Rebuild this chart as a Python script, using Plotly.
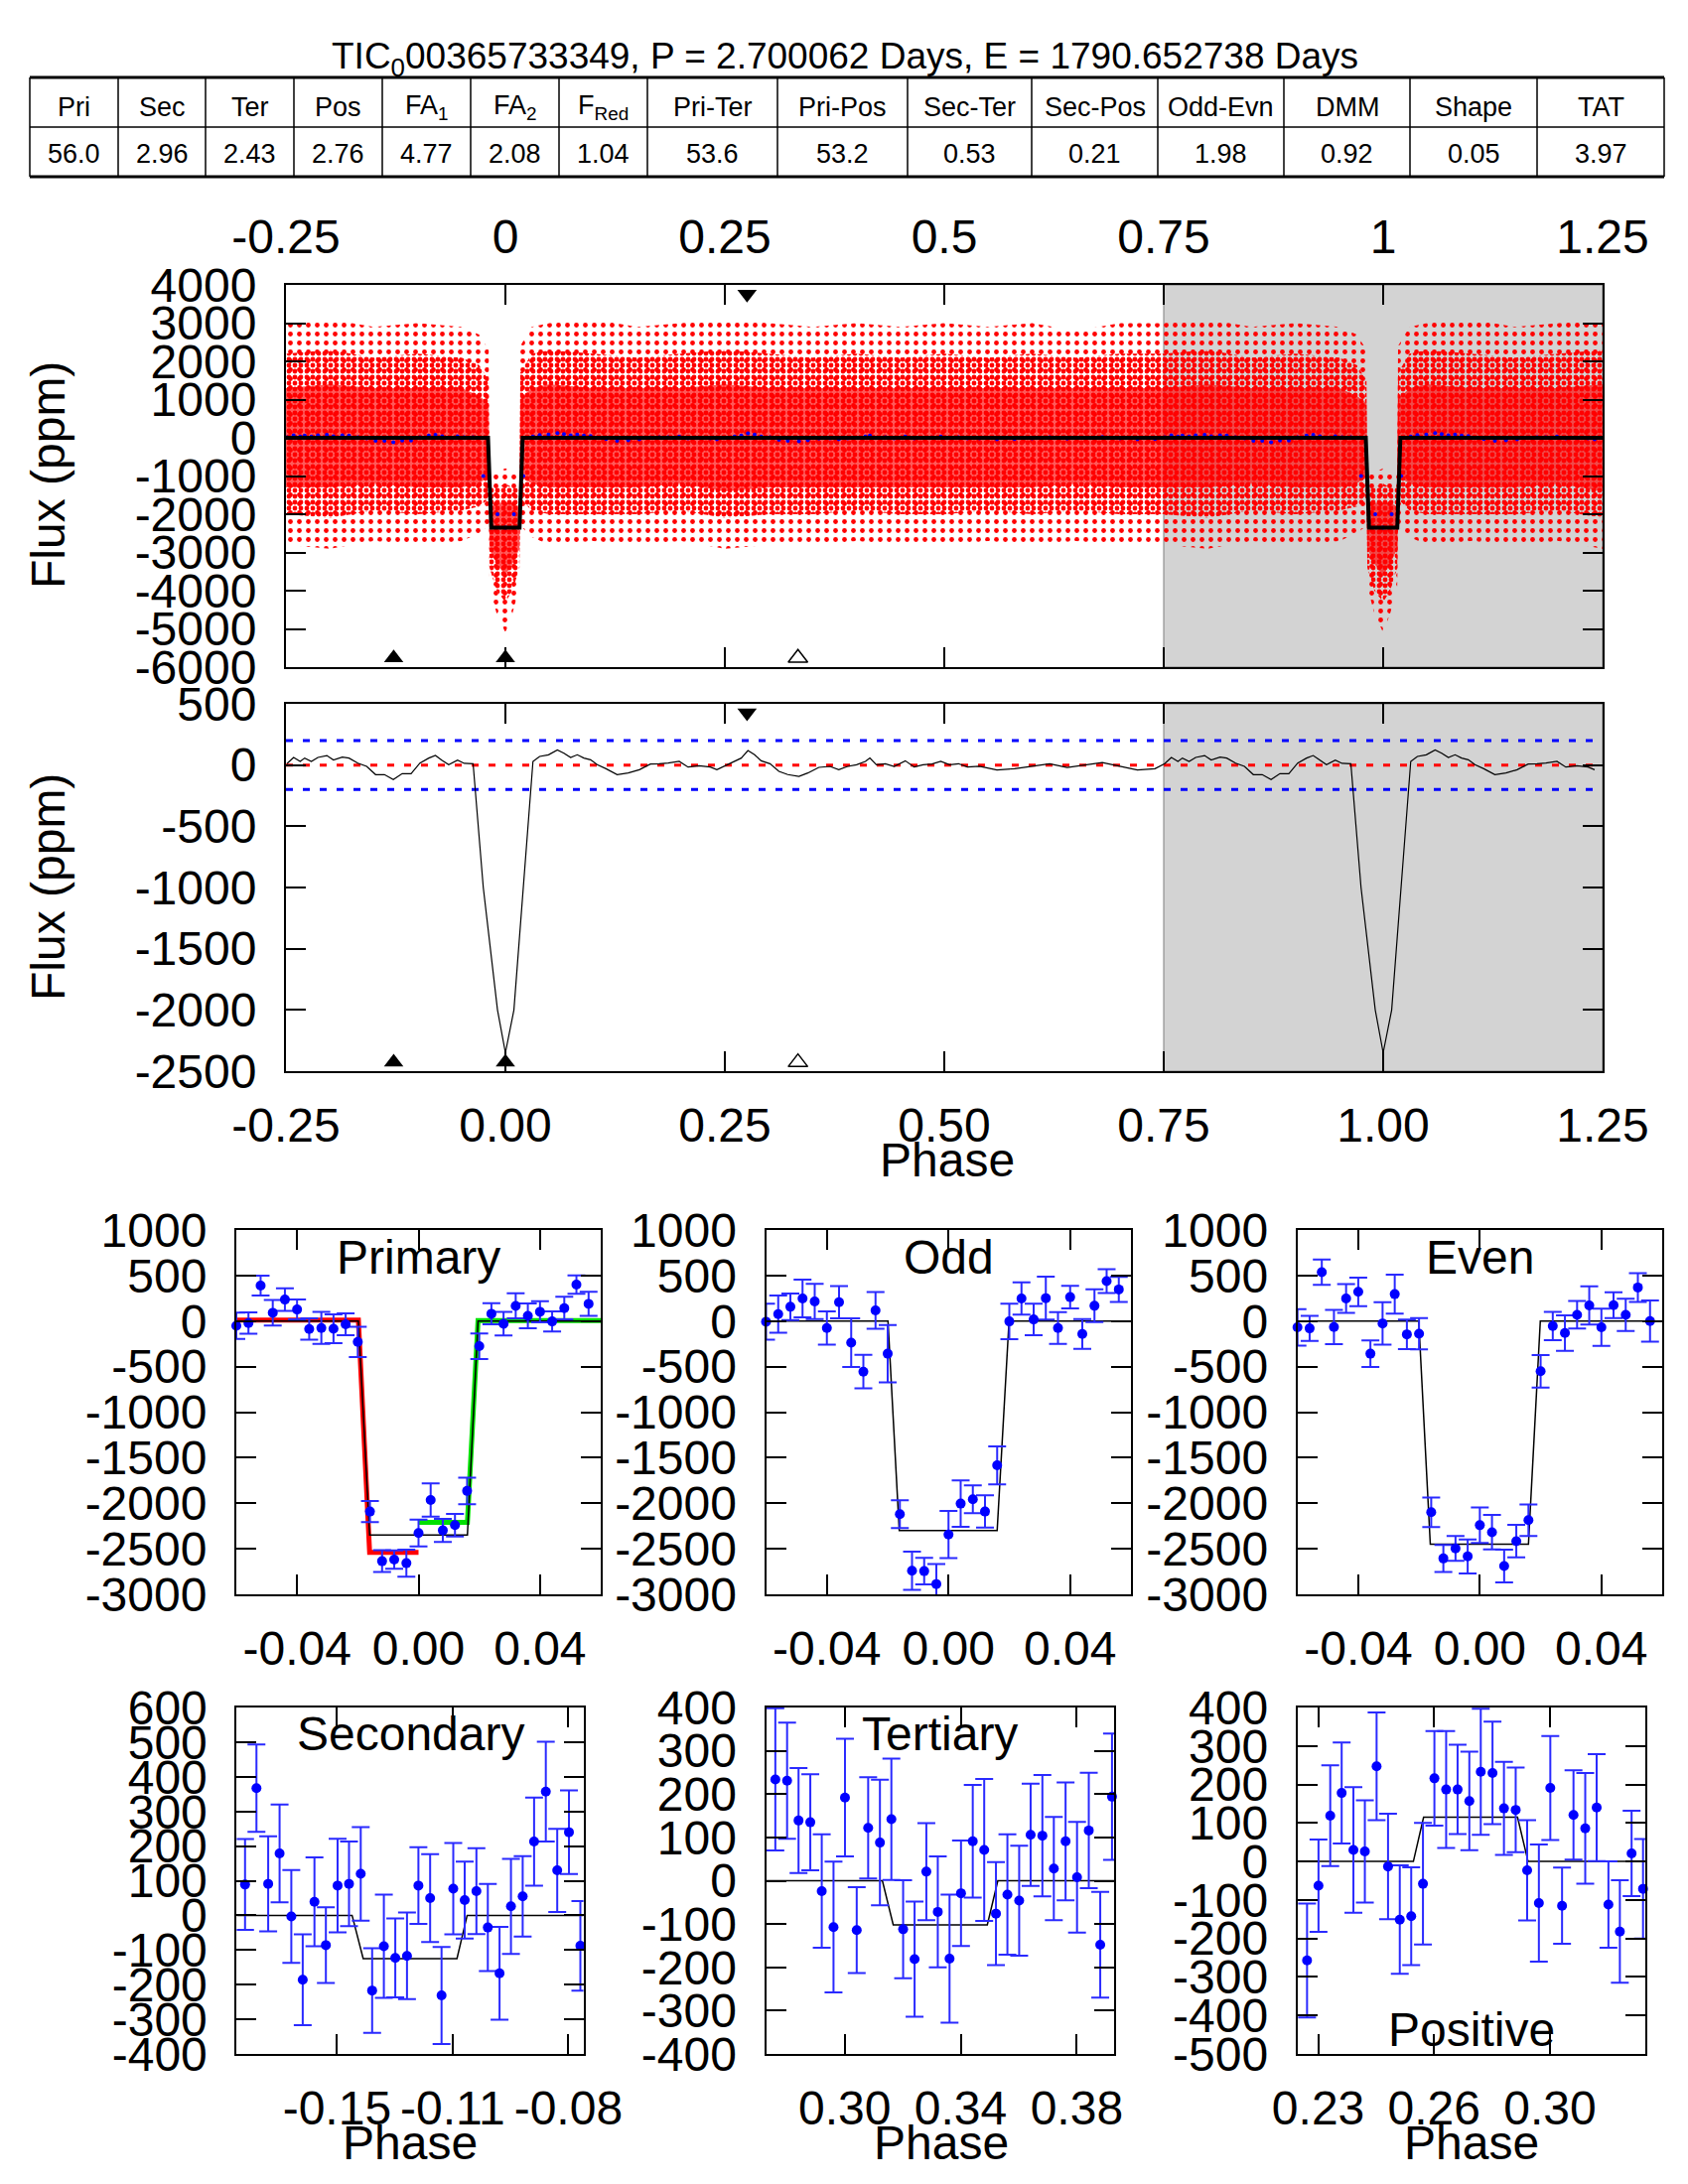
import numpy as np
import plotly.graph_objects as go

W, H = 1700, 2200
OX, OY = 8, 8  # page body margin in the browser
FONT = "Liberation Sans, Arial, sans-serif"

# ---------------- header / table
title_text = "TIC<sub>0</sub>00365733349, P = 2.700062 Days, E = 1790.652738 Days"
table_head = ["Pri", "Sec", "Ter", "Pos", "FA<sub>1</sub>", "FA<sub>2</sub>", "F<sub>Red</sub>",
              "Pri-Ter", "Pri-Pos", "Sec-Ter", "Sec-Pos", "Odd-Evn", "DMM", "Shape", "TAT"]
table_vals = ["56.0", "2.96", "2.43", "2.76", "4.77", "2.08", "1.04",
              "53.6", "53.2", "0.53", "0.21", "1.98", "0.92", "0.05", "3.97"]

# ---------------- full phase plots
# envelope of the red data cloud (one period, -0.25..0.75)
cloud_phase = [-0.25, -0.20, -0.15, -0.10, -0.05, -0.030, -0.019, -0.018, -0.010, 0.000, 0.008, 0.016,
               0.017, 0.030, 0.05, 0.10, 0.15, 0.20, 0.25, 0.30, 0.35, 0.40, 0.45, 0.50, 0.55, 0.60,
               0.65, 0.70, 0.75]
outer_hi = [3000, 3100, 2900, 3000, 2900, 2700, 2300, -900, -900, -800, -900, -900,
            2400, 2900, 3000, 3100, 2900, 3000, 3100, 3000, 2900, 3000, 2900, 3000, 2900, 3000,
            2800, 3000, 3000]
outer_lo = [-2800, -2900, -2700, -2800, -2700, -2500, -2300, -3900, -4600, -5100, -4600, -3900,
            -2300, -2600, -2800, -2700, -2800, -2700, -2900, -2800, -2800, -2700, -2800, -2800, -2700, -2800,
            -2700, -2800, -2800]
mid_hi = [2200, 2300, 2100, 2200, 2100, 1900, 1500, -1300, -1300, -1200, -1300, -1300,
          1700, 2200, 2300, 2200, 2100, 2200, 2300, 2200, 2100, 2200, 2100, 2200, 2100, 2200,
          2100, 2200, 2200]
mid_lo = [-2000, -2100, -1900, -2000, -1900, -1800, -1600, -3400, -4000, -4300, -4000, -3400,
          -1600, -1900, -2000, -2000, -2000, -1900, -2100, -2000, -2000, -1900, -2000, -2000, -1900, -2000,
          -1900, -2000, -2000]
core_hi = [1300, 1400, 1300, 1300, 1300, 1100, 900, -1800, -1700, -1700, -1700, -1800,
           1000, 1300, 1400, 1300, 1300, 1300, 1400, 1300, 1300, 1300, 1300, 1300, 1300, 1300,
           1300, 1300, 1300]
core_lo = [-1300, -1300, -1200, -1300, -1300, -1200, -1000, -2900, -3300, -3600, -3300, -2900,
           -1000, -1200, -1300, -1300, -1300, -1200, -1400, -1300, -1300, -1300, -1300, -1300, -1300, -1300,
           -1200, -1300, -1300]

# smoothed (binned) light curve, one period
smooth_phase = [-0.2489, -0.2413, -0.2338, -0.2287, -0.2211, -0.2136, -0.2034, -0.1959, -0.1858, -0.1782,
                -0.1681, -0.1580, -0.1479, -0.1378, -0.1277, -0.1176, -0.1075, -0.0974, -0.0873, -0.0797,
                -0.0721, -0.0646, -0.0545, -0.0469, -0.0368, -0.0252, -0.0090, 0.0000, 0.0097, 0.0204,
                0.0314, 0.0390, 0.0491, 0.0592, 0.0667, 0.0743, 0.0819, 0.0894, 0.0970, 0.1046,
                0.1147, 0.1273, 0.1399, 0.1526, 0.1652, 0.1753, 0.1854, 0.1980, 0.2081, 0.2207,
                0.2334, 0.2409, 0.2510, 0.2611, 0.2687, 0.2763, 0.2839, 0.2914, 0.3015, 0.3116,
                0.3217, 0.3344, 0.3445, 0.3571, 0.3697, 0.3798, 0.3899, 0.4000, 0.4101, 0.4152,
                0.4227, 0.4328, 0.4429, 0.4556, 0.4657, 0.4758, 0.4859, 0.4960, 0.5061, 0.5162,
                0.5263, 0.54, 0.56, 0.58, 0.60, 0.62, 0.64, 0.66, 0.68, 0.70,
                0.72, 0.74]
smooth_flux = [11, 62, 30, 57, 30, 62, 78, 41, 65, 57,
               16, -11, -78, -78, -119, -70, -70, 16, 57, 78,
               38, 3, 41, 14, 11, -1000, -2000, -2350, -2000, -1000,
               30, 70, 84, 124, 97, 62, 84, 57, 43, 3,
               -30, -78, -65, -38, 8, 11, 16, 30, -16, -5,
               -16, -38, -3, 30, 57, 119, 84, 35, 11, -51,
               -78, -92, -65, -19, -11, -38, -11, 3, 30, 57,
               3, 11, -11, 35, -16, 3, 8, 30, 3, 11,
               -16, -10, -40, -30, -10, 10, -20, 0, 20, -10,
               -40, -30]

# box model for the full plot
model_phase = [-0.25, -0.0198, -0.0161, 0.0161, 0.0196, 0.9802, 0.9839, 1.0161, 1.0196, 1.25]
model_flux = [0, 0, -2350, -2350, 0, 0, -2350, -2350, 0, 0]

# event markers: primary, secondary, tertiary, positive
event_phase = {"pri": 0.0, "sec": -0.1273, "ter": 0.3333, "pos": 0.2753}
thresh_lines = [200, -200]

full_ticks = [-0.25, 0, 0.25, 0.5, 0.75, 1.0, 1.25]
full_top_text = ["-0.25", "0", "0.25", "0.5", "0.75", "1", "1.25"]
full_bot_text = ["-0.25", "0.00", "0.25", "0.50", "0.75", "1.00", "1.25"]
y1_ticks = [4000, 3000, 2000, 1000, 0, -1000, -2000, -3000, -4000, -5000, -6000]
y2_ticks = [500, 0, -500, -1000, -1500, -2000, -2500]

# ---------------- zoomed panels
pri_phase = [-0.060, -0.056, -0.052, -0.048, -0.044, -0.040, -0.036, -0.032, -0.028, -0.024,
             -0.020, -0.016, -0.012, -0.008, -0.004, 0.000, 0.004, 0.008, 0.012, 0.016,
             0.020, 0.024, 0.028, 0.032, 0.036, 0.040, 0.044, 0.048, 0.052, 0.056]
prim_flux = [-51, -22, 389, 91, 236, 127, -87, -76, -84, -36, -229, -2091, -2636, -2618, -2658,
             -2327, -1964, -2298, -2240, -1865, -276, 80, -29, 167, 58, 102, -4, 142, 400, 189]
prim_err = [145, 118, 109, 140, 124, 109, 118, 176, 158, 120, 167, 115, 120, 100, 149,
            147, 182, 127, 124, 145, 140, 116, 129, 138, 136, 116, 111, 124, 100, 133]
odd_flux = [-7, 77, 157, 248, 215, -77, 208, -237, -555, 117, -358, -2120, -2741, -2745, -2887,
            -2343, -2004, -1956, -2091, -1584, -4, 248, 18, 252, -77, 263, -142, 168, 438, 347]
odd_err = [197, 205, 146, 208, 194, 182, 177, 266, 184, 201, 315, 153, 210, 146, 220,
           259, 255, 153, 177, 208, 195, 177, 173, 235, 175, 124, 164, 180, 131, 137]
even_flux = [-69, -80, 536, -66, 248, 321, -358, -26, 296, -146, -139, -2099, -2606, -2496, -2584,
             -2241, -2318, -2690, -2416, -2186, -551, -55, -131, 69, 172, -69, 175, 69, 369, 0]
even_err = [201, 137, 139, 188, 159, 157, 146, 233, 213, 161, 172, 162, 148, 137, 187,
            195, 189, 180, 179, 173, 178, 155, 195, 151, 209, 204, 142, 177, 158, 226]

sec_phase = [-0.1808, -0.1771, -0.1733, -0.1696, -0.1658, -0.1621, -0.1583, -0.1546, -0.1508, -0.1471,
             -0.1433, -0.1396, -0.1358, -0.1321, -0.1283, -0.1246, -0.1208, -0.1171, -0.1133, -0.1096,
             -0.1058, -0.1021, -0.0983, -0.0946, -0.0908, -0.0871, -0.0833, -0.0796, -0.0758, -0.0721]
sec_flux = [89, 367, 91, 179, -3, -186, 39, -86, 86, 91, 120, -217, -89, -123, -117,
            86, 50, -231, 77, 44, 70, -35, -167, 26, 55, 213, 357, 130, 240, -88]
sec_err = [131, 126, 137, 141, 134, 131, 128, 109, 135, 122, 135, 122, 149, 114, 125,
           111, 127, 140, 132, 111, 124, 126, 134, 137, 116, 127, 144, 120, 121, 129]

ter_phase = [0.2796, 0.2834, 0.2871, 0.2909, 0.2946, 0.2984, 0.3021, 0.3059, 0.3096, 0.3134,
             0.3171, 0.3209, 0.3246, 0.3284, 0.3321, 0.3359, 0.3396, 0.3434, 0.3471, 0.3509,
             0.3546, 0.3584, 0.3621, 0.3659, 0.3696, 0.3734, 0.3771, 0.3809, 0.3846, 0.3884]
ter_flux = [234, 231, 139, 135, -24, -107, 192, -114, 122, 88, 142, -112, -181, 21, -72,
            -180, -29, 91, 71, -76, -32, -46, 106, 104, 28, 91, 8, 116, -148, 194]
ter_err = [164, 134, 121, 111, 131, 151, 136, 99, 117, 145, 140, 113, 133, 112, 128,
           148, 122, 130, 164, 119, 139, 127, 118, 140, 119, 136, 128, 133, 122, 146]

pos_phase = [0.2224, 0.2261, 0.2299, 0.2336, 0.2374, 0.2411, 0.2449, 0.2486, 0.2524, 0.2561,
             0.2599, 0.2636, 0.2674, 0.2711, 0.2749, 0.2786, 0.2824, 0.2861, 0.2899, 0.2936,
             0.2974, 0.3011, 0.3049, 0.3086, 0.3124, 0.3161, 0.3199, 0.3236, 0.3274, 0.3311]
pos_flux = [-257, -63, 119, 178, 30, 26, 247, -13, -151, -142, -58, 216, 187, 187, 157,
            233, 230, 138, 134, -23, -108, 191, -115, 121, 86, 140, -112, -182, 21, -71]
pos_err = [148, 120, 131, 131, 163, 133, 140, 137, 141, 127, 158, 123, 152, 116, 128,
           164, 133, 121, 110, 130, 152, 135, 99, 116, 144, 139, 112, 133, 111, 129]

# box models for each zoomed panel
pri_model_x = [-0.06, -0.0198, -0.0161, 0.0161, 0.0196, 0.06]
pri_model_y = [0, 0, -2350, -2350, 0, 0]
odd_model_x = [-0.06, -0.0199, -0.0162, 0.0160, 0.0199, 0.06]
odd_model_y = [0, 0, -2300, -2300, 0, 0]
even_model_x = [-0.06, -0.0201, -0.0163, 0.0160, 0.0199, 0.06]
even_model_y = [0, 0, -2450, -2450, 0, 0]
red_fit_x = [-0.06, -0.0198, -0.0161, 0.0]
red_fit_y = [10, 10, -2540, -2540]
green_fit_x = [0.0, 0.0161, 0.0196, 0.06]
green_fit_y = [-2210, -2210, 5, 5]
sec_model_x = [-0.1835, -0.1461, -0.1425, -0.1121, -0.1088, -0.0711]
sec_model_y = [0, 0, -125, -125, 0, 0]
ter_model_x = [0.2766, 0.3142, 0.3177, 0.3481, 0.3515, 0.3892]
ter_model_y = [0, 0, -102, -102, 0, 0]
pos_model_x = [0.2193, 0.2568, 0.2601, 0.2905, 0.2939, 0.3318]
pos_model_y = [0, 0, 115, 115, 0, 0]


def px_x(a, b):
    return [(a - OX) / W, (b - OX) / W]


def px_y(top, bot):
    return [1 - (bot - OY) / H, 1 - (top - OY) / H]


def pp(x, y):
    # pixel position -> paper coordinates
    return (x - OX) / W, 1 - (y - OY) / H


def wrap(xs, ys):
    # copy the first half period to 0.75..1.25
    xs = np.asarray(xs, float)
    ys = np.asarray(ys, float)
    keep = xs + 1 <= 1.25
    return np.concatenate([xs, xs[keep] + 1]), np.concatenate([ys, ys[keep]])


def axis(domain, rng, tickvals, ticktext, anchor, side=None, standoff=14, ticklen=20):
    d = dict(domain=domain, range=rng, anchor=anchor, tickmode="array", tickvals=tickvals,
             ticktext=ticktext, ticks="inside", ticklen=ticklen, tickwidth=1.5, tickcolor="black",
             showline=True, linecolor="black", linewidth=2, mirror="ticks", showgrid=False,
             zeroline=False, ticklabelstandoff=standoff, automargin=False, tickangle=0,
             tickfont=dict(size=48, family=FONT, color="black"))
    if side:
        d["side"] = side
    return d


fig = go.Figure()

# ---- panel 1: raw folded data
cx, _ = wrap(cloud_phase, outer_hi)
bands = [(outer_hi, outer_lo, dict(shape=".", fgcolor="red", size=9, solidity=0.22)),
         (mid_hi, mid_lo, dict(shape=".", fgcolor="red", size=6, solidity=0.5)),
         (core_hi, core_lo, None)]
for hi, lo, patt in bands:
    _, yh = wrap(cloud_phase, hi)
    _, yl = wrap(cloud_phase, lo)
    tr = go.Scatter(x=np.concatenate([cx, cx[::-1]]), y=np.concatenate([yh, yl[::-1]]),
                    fill="toself", mode="none", hoverinfo="skip", xaxis="x", yaxis="y")
    if patt:
        tr.fillcolor = "rgba(0,0,0,0)"
        tr.fillpattern = dict(bgcolor="rgba(0,0,0,0)", **patt)
    else:
        tr.fillcolor = "rgba(255,0,0,0.65)"
    fig.add_trace(tr)

sx, sy = wrap(smooth_phase, smooth_flux)
fig.add_trace(go.Scatter(x=sx, y=sy, mode="markers", marker=dict(color="blue", size=4),
                         xaxis="x", yaxis="y", hoverinfo="skip"))
fig.add_trace(go.Scatter(x=model_phase, y=model_flux, mode="lines", line=dict(color="black", width=4),
                         xaxis="x", yaxis="y"))

# ---- panel 2: smoothed curve
for val in thresh_lines:
    fig.add_trace(go.Scatter(x=[full_ticks[0], full_ticks[-1]], y=[val, val], mode="lines",
                             line=dict(color="blue", width=3, dash="7px,10px"), xaxis="x2", yaxis="y2"))
fig.add_trace(go.Scatter(x=[full_ticks[0], full_ticks[-1]], y=[0, 0], mode="lines",
                         line=dict(color="red", width=3, dash="7px,10px"), xaxis="x2", yaxis="y2"))
fig.add_trace(go.Scatter(x=sx, y=sy, mode="lines", line=dict(color="black", width=1.2),
                         xaxis="x2", yaxis="y2"))

# event triangles on both full plots
for xa, ya, rng in [("x", "y", [-6000, 4000]), ("x2", "y2", [-2500, 500])]:
    lo = rng[0] + 0.024 * (rng[1] - rng[0])
    hi = rng[1] - 0.024 * (rng[1] - rng[0])
    fig.add_trace(go.Scatter(x=[event_phase["sec"], event_phase["pri"]], y=[lo, lo], mode="markers",
                             marker=dict(symbol="triangle-up", size=17, color="black"),
                             xaxis=xa, yaxis=ya, cliponaxis=False))
    fig.add_trace(go.Scatter(x=[event_phase["ter"]], y=[lo], mode="markers",
                             marker=dict(symbol="triangle-up-open", size=17, color="black",
                                         line=dict(width=1.5)),
                             xaxis=xa, yaxis=ya, cliponaxis=False))
    fig.add_trace(go.Scatter(x=[event_phase["pos"]], y=[hi], mode="markers",
                             marker=dict(symbol="triangle-down", size=17, color="black"),
                             xaxis=xa, yaxis=ya, cliponaxis=False))

# ---- zoomed panels
panels = [
    ("3", pri_phase, prim_flux, prim_err, pri_model_x, pri_model_y),
    ("4", pri_phase, odd_flux, odd_err, odd_model_x, odd_model_y),
    ("5", pri_phase, even_flux, even_err, even_model_x, even_model_y),
    ("6", sec_phase, sec_flux, sec_err, sec_model_x, sec_model_y),
    ("7", ter_phase, ter_flux, ter_err, ter_model_x, ter_model_y),
    ("8", pos_phase, pos_flux, pos_err, pos_model_x, pos_model_y),
]
for n, px, fy, fe, mx, my in panels:
    if n == "3":
        fig.add_trace(go.Scatter(x=red_fit_x, y=red_fit_y, mode="lines",
                                 line=dict(color="red", width=5), xaxis="x3", yaxis="y3"))
        fig.add_trace(go.Scatter(x=green_fit_x, y=green_fit_y, mode="lines",
                                 line=dict(color="#00e000", width=5), xaxis="x3", yaxis="y3"))
    fig.add_trace(go.Scatter(x=mx, y=my, mode="lines", line=dict(color="black", width=1.5),
                             xaxis="x" + n, yaxis="y" + n))
    fig.add_trace(go.Scatter(x=px, y=fy, mode="markers", marker=dict(color="blue", size=10),
                             error_y=dict(type="data", array=fe, color="#2a2aff", thickness=2, width=9),
                             xaxis="x" + n, yaxis="y" + n, cliponaxis=False))

# ---- layout
top1, bot1 = 287, 672
top2, bot2 = 709, 1079
L, R = 288, 1614
r1t, r1b = 1239, 1606
r2t, r2b = 1720, 2069
cols1 = [(238, 605), (771.5, 1139), (1306.7, 1674)]
cols2 = [(238.4, 587.6), (771.5, 1122.4), (1306.7, 1656.9)]

lay = dict(
    template="none",
    width=W, height=H, margin=dict(l=0, r=0, t=0, b=0, autoexpand=False), showlegend=False,
    paper_bgcolor="white", plot_bgcolor="white",
    font=dict(family=FONT, color="black"),
)
lay["xaxis"] = axis(px_x(L, R), [-0.25, 1.25], full_ticks, full_top_text, "y", side="top", standoff=11)
lay["yaxis"] = axis(px_y(top1, bot1), [-6000, 4000], y1_ticks, [str(v) for v in y1_ticks], "x", standoff=18)
lay["xaxis2"] = axis(px_x(L, R), [-0.25, 1.25], full_ticks, full_bot_text, "y2", standoff=11)
lay["yaxis2"] = axis(px_y(top2, bot2), [-2500, 500], y2_ticks, [str(v) for v in y2_ticks], "x2", standoff=18)

pri_ticks = [-0.04, 0.0, 0.04]
pri_text = ["-0.04", "0.00", "0.04"]
big_y = [1000, 500, 0, -500, -1000, -1500, -2000, -2500, -3000]
for i, n in enumerate(["3", "4", "5"]):
    a, b = cols1[i]
    lay["xaxis" + n] = axis(px_x(a, b), [-0.06, 0.06], pri_ticks, pri_text, "y" + n, standoff=11)
    lay["yaxis" + n] = axis(px_y(r1t, r1b), [-3000, 1000], big_y, [str(v) for v in big_y], "x" + n, standoff=18)

row2 = [
    ("6", [-0.1835, -0.0711], [-0.151, -0.1135, -0.076], ["-0.15", "-0.11", "-0.08"],
     [-400, 600], [600, 500, 400, 300, 200, 100, 0, -100, -200, -300, -400]),
    ("7", [0.2766, 0.3892], [0.302, 0.3395, 0.377], ["0.30", "0.34", "0.38"],
     [-400, 400], [400, 300, 200, 100, 0, -100, -200, -300, -400]),
    ("8", [0.2193, 0.3318], [0.226, 0.2635, 0.301], ["0.23", "0.26", "0.30"],
     [-500, 400], [400, 300, 200, 100, 0, -100, -200, -300, -400, -500]),
]
for i, (n, xr, tv, tt, yr, yt) in enumerate(row2):
    a, b = cols2[i]
    lay["xaxis" + n] = axis(px_x(a, b), xr, tv, tt, "y" + n, standoff=11)
    lay["yaxis" + n] = axis(px_y(r2t, r2b), yr, yt, [str(v) for v in yt], "x" + n, standoff=18)

fig.update_layout(**lay)

# gray half (second copy of the period)
for ya in ["y", "y2"]:
    fig.add_shape(type="rect", xref="x" if ya == "y" else "x2", yref=ya + " domain",
                  x0=0.75, x1=1.25, y0=0, y1=1, fillcolor="#d3d3d3",
                  line=dict(color="#7f7f7f", width=1), layer="below")

# ---- statistics table drawn as ruled cells
col_edges = [30, 119, 207, 296, 385, 474, 563, 652, 783, 914, 1039, 1166, 1293, 1420, 1548, 1676]
row_edges = [78, 128, 178]
for yy, lw in zip(row_edges, [3, 1.5, 3]):
    x0, y0 = pp(col_edges[0], yy)
    x1, _ = pp(col_edges[-1], yy)
    fig.add_shape(type="line", xref="paper", yref="paper", x0=x0, x1=x1, y0=y0, y1=y0,
                  line=dict(color="black", width=lw))
for xx in col_edges:
    x0, y0 = pp(xx, row_edges[0])
    _, y1 = pp(xx, row_edges[-1])
    fig.add_shape(type="line", xref="paper", yref="paper", x0=x0, x1=x0, y0=y0, y1=y1,
                  line=dict(color="black", width=1.5))
for i in range(len(table_head)):
    cxp = (col_edges[i] + col_edges[i + 1]) / 2
    for txt, yy in [(table_head[i], 108), (table_vals[i], 155)]:
        ax, ay = pp(cxp, yy)
        fig.add_annotation(xref="paper", yref="paper", x=ax, y=ay, text=txt, showarrow=False,
                           xanchor="center", yanchor="middle",
                           font=dict(size=27, family=FONT, color="black"))

ann = [
    dict(text=title_text, x=851, y=59, font=dict(size=37)),
    dict(text="Flux (ppm)", x=48, y=479, textangle=-90, font=dict(size=48)),
    dict(text="Flux (ppm)", x=48, y=894, textangle=-90, font=dict(size=48)),
    dict(text="Phase", x=954, y=1168, font=dict(size=48)),
    dict(text="Phase", x=413, y=2158, font=dict(size=48)),
    dict(text="Phase", x=948, y=2158, font=dict(size=48)),
    dict(text="Phase", x=1482, y=2158, font=dict(size=48)),
]
for a in ann:
    a["x"], a["y"] = pp(a["x"], a["y"])
    fig.add_annotation(xref="paper", yref="paper", xanchor="center", yanchor="middle",
                       showarrow=False, **a)

panel_titles = [("3", "Primary", 0.924), ("4", "Odd", 0.924), ("5", "Even", 0.924),
                ("6", "Secondary", 0.923), ("7", "Tertiary", 0.923), ("8", "Positive", 0.069)]
for n, txt, yy in panel_titles:
    fig.add_annotation(xref="x" + n + " domain", yref="y" + n + " domain", x=0.5, y=yy,
                       xanchor="center", yanchor="middle", showarrow=False, text=txt,
                       font=dict(size=48, family=FONT, color="black"))

fig.write_html("out.html")
